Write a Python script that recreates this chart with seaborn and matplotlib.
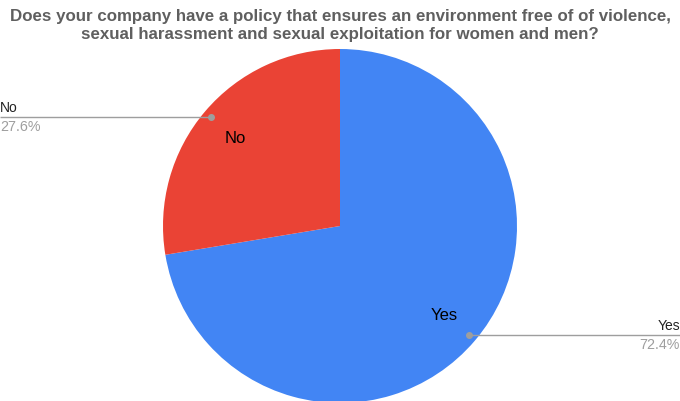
import numpy as np
import matplotlib.pyplot as plt
import seaborn as sns

sns.set_theme(style='white')
plt.rcParams['font.family'] = ['Liberation Sans', 'DejaVu Sans']

labels = ['Yes', 'No']
shares = [72.4, 27.6]
colours = ['#4285F4', '#EA4335']

title = ('Does your company have a policy that ensures an environment free of of violence,\n'
         'sexual harassment and sexual exploitation for women and men?')

fig = plt.figure(figsize=(6.8, 4.02), dpi=100)
ax = fig.add_axes([0, 0, 1, 1])
ax.set_xlim(0, 680)
ax.set_ylim(0, 402)
ax.set_aspect('equal')

cx, cy, r = 340, 175, 177
wedges, texts = ax.pie(
    shares, labels=labels, colors=colours, startangle=90, counterclock=False,
    center=(cx, cy), radius=r, labeldistance=0.775, frame=True,
    wedgeprops=dict(linewidth=0, edgecolor='none'),
    textprops=dict(size=12, color='black'),
)
for t in texts:
    t.set_ha('center')
    t.set_va('center')
ax.set_xlim(0, 680)
ax.set_ylim(0, 402)
ax.axis('off')

grey = '#9e9e9e'
for w, lab, val in zip(wedges, labels, shares):
    mid = np.deg2rad((w.theta1 + w.theta2) / 2)
    px = cx + 0.955 * r * np.cos(mid)
    py = cy + 0.955 * r * np.sin(mid)
    edge = 0 if px < cx else 680
    ax.plot([px, edge], [py, py], color=grey, lw=1, solid_capstyle='butt')
    ax.plot(px, py, 'o', color=grey, ms=4)
    ha = 'left' if edge == 0 else 'right'
    ax.text(edge, py + 3, lab, ha=ha, va='bottom', size=10, color='#222222')
    ax.text(edge, py - 2, f'{val}%', ha=ha, va='top', size=10.3, color=grey)

fig.text(0.5, 1 - 26 / 402, title, ha='center', va='center', size=12.2,
         weight='bold', color='#5f5f5f', linespacing=1.25)

fig.savefig('out.png', dpi=100)
